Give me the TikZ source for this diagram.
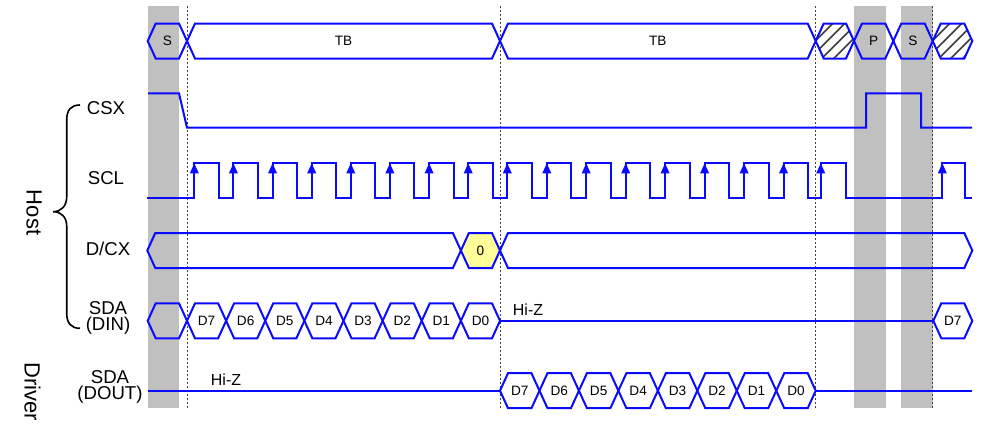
\documentclass[tikz,border=0pt]{standalone}
\usepackage{fontspec}
\setmainfont{Liberation Sans}
\definecolor{sigblue}{RGB}{10,10,255}
\definecolor{bandgray}{RGB}{192,192,192}
\definecolor{hexyellow}{RGB}{255,255,153}
\definecolor{hatchgray}{RGB}{60,60,60}
\newcommand\hexpath[3]{(#1,#3) -- ({#1+8},{#3-17.5}) -- ({#2-8},{#3-17.5}) -- (#2,#3) -- ({#2-8},{#3+17.5}) -- ({#1+8},{#3+17.5}) -- cycle}
\tikzset{
  sig/.style={draw=sigblue, line width=1pt, line join=miter},
  band/.style={fill=bandgray},
  guide/.style={draw=black!75, line width=0.4pt, dash pattern=on 1pt off 1pt},
  hexlabel/.style={font=\fontsize{6.8}{7}\selectfont, inner sep=0pt},
  siglabel/.style={font=\fontsize{9.3}{8}\selectfont, align=center, inner sep=0pt},
  grouplabel/.style={font=\fontsize{11}{12}\selectfont, rotate=-90, inner sep=0pt},
  hizlabel/.style={font=\fontsize{8}{9}\selectfont, inner sep=0pt},
  hatch/.style={draw=hatchgray, line width=0.75pt},
  bracestyle/.style={draw=black, line width=0.8pt},
}
\begin{document}
\begin{tikzpicture}[x=0.5pt,y=-0.5pt]
\useasboundingbox (0,0) rectangle (1000,434);
% gray bands
\fill[band] (148,6) rectangle (179,408);
\fill[band] (854,6) rectangle (886,408);
\fill[band] (901,6) rectangle (932.7,408);
% guides
\foreach \g in {187,500,815.7,932.7} \draw[guide] (\g,6) -- (\g,408);

% ---- top bus ----
\draw[sig] \hexpath{147.7}{187}{41};
\draw[sig] \hexpath{187}{500}{41};
\draw[sig] \hexpath{500}{815.7}{41};
\draw[sig] \hexpath{854}{893.3}{41};
\draw[sig] \hexpath{893.3}{932.7}{41};
\foreach \a/\b in {815.7/854,932.7/972.3}{
  \begin{scope}
    \clip \hexpath{\a}{\b}{41};
    \foreach \k in {0,...,6} \draw[hatch] ({\a-30+12*\k},58.5) -- ++(35,-35);
  \end{scope}
  \draw[sig] \hexpath{\a}{\b}{41};
}
\node[hexlabel] (bs1) at (167.4,41) {S};
\node[hexlabel] (tb1) at (343.5,41) {TB};
\node[hexlabel] (tb2) at (657.8,41) {TB};
\node[hexlabel] (bp) at (873.7,41) {P};
\node[hexlabel] (bs2) at (913,41) {S};

% ---- CSX ----
\draw[sig] (148,93.3) -- (179,93.3) -- (187,127.7) -- (866,127.7) -- (866,93.3) -- (921,93.3) -- (921,127.7) -- (972,127.7);

% ---- SCL ----
\draw[sig] (147.3,198.3)
  \foreach \r/\f in {194.3/218.7,233.4/257.8,272.5/296.9,311.7/336.1,350.8/375.2,389.9/414.3,429.1/453.5,468.2/492.6,
                     507.3/531.7,546.8/571.2,586.2/610.6,625.7/650.1,665.1/689.5,704.6/729.0,744.1/768.5,783.5/807.9,
                     820.7/845.7,942.3/965}
  { -- (\r,198.3) -- (\r,163.3) -- (\f,163.3) -- (\f,198.3) }
  -- (972,198.3);
\foreach \r in {194.3,233.4,272.5,311.7,350.8,389.9,429.1,468.2,507.3,546.8,586.2,625.7,665.1,704.6,744.1,783.5,820.7,942.3}
  \fill[sigblue] (\r,163.3) -- ++(-4.5,10) -- ++(9,0) -- cycle;

% ---- D/CX ----
\draw[sig] \hexpath{147.3}{460.9}{250.5};
\filldraw[sig, fill=hexyellow] \hexpath{460.9}{500}{250.5};
\draw[sig] \hexpath{500}{972.3}{250.5};
\node[hexlabel] (dc0) at (480.5,250.5) {0};

% ---- SDA (DIN) ----
\draw[sig] \hexpath{147.7}{187}{320.8};
\foreach \k in {0,...,7}{
  \pgfmathsetmacro\ca{187+39.125*\k}
  \pgfmathsetmacro\cb{187+39.125*(\k+1)}
  \pgfmathtruncatemacro\bit{7-\k}
  \draw[sig] \hexpath{\ca}{\cb}{320.8};
  \node[hexlabel] (din\bit) at ({(\ca+\cb)/2},320.8) {D\bit};
}
\draw[sig] (500,320.8) -- (933.3,320.8);
\draw[sig] \hexpath{933.3}{972.3}{320.8};
\node[hexlabel] (din7b) at (952.8,320.8) {D7};
\node[hizlabel] (hiz1) at (528,309.7) {Hi-Z};

% ---- SDA (DOUT) ----
\draw[sig] (148,390.7) -- (500,390.7);
\foreach \k in {0,...,7}{
  \pgfmathsetmacro\ca{500+39.4625*\k}
  \pgfmathsetmacro\cb{500+39.4625*(\k+1)}
  \pgfmathtruncatemacro\bit{7-\k}
  \draw[sig] \hexpath{\ca}{\cb}{390.7};
  \node[hexlabel] (dout\bit) at ({(\ca+\cb)/2},390.7) {D\bit};
}
\draw[sig] (815.7,390.7) -- (972,390.7);
\node[hizlabel] (hiz2) at (226,379.3) {Hi-Z};

% ---- signal labels ----
\node[siglabel] (lcsx) at (106,108.3) {CSX};
\node[siglabel] (lscl) at (106,178.3) {SCL};
\node[siglabel] (ldcx) at (108,249.3) {D/CX};
\node[siglabel] (ldin) at (108,317.5) {SDA\\(DIN)};
\node[siglabel] (ldout) at (110,387) {SDA\\(DOUT)};

% ---- group labels and brace ----
\node[grouplabel] (host) at (34,212.5) {Host};
\node[grouplabel] (drv) at (32.5,391.7) {Driver};
\draw[bracestyle] (80,105) .. controls (71,105) and (66.7,110) .. (66.7,120) -- (66.7,197)
  .. controls (66.7,206) and (61,211.7) .. (53.3,211.7)
  .. controls (61,211.7) and (66.7,217) .. (66.7,226) -- (66.7,313)
  .. controls (66.7,323) and (71,328.3) .. (80,328.3);
\end{tikzpicture}
\end{document}
